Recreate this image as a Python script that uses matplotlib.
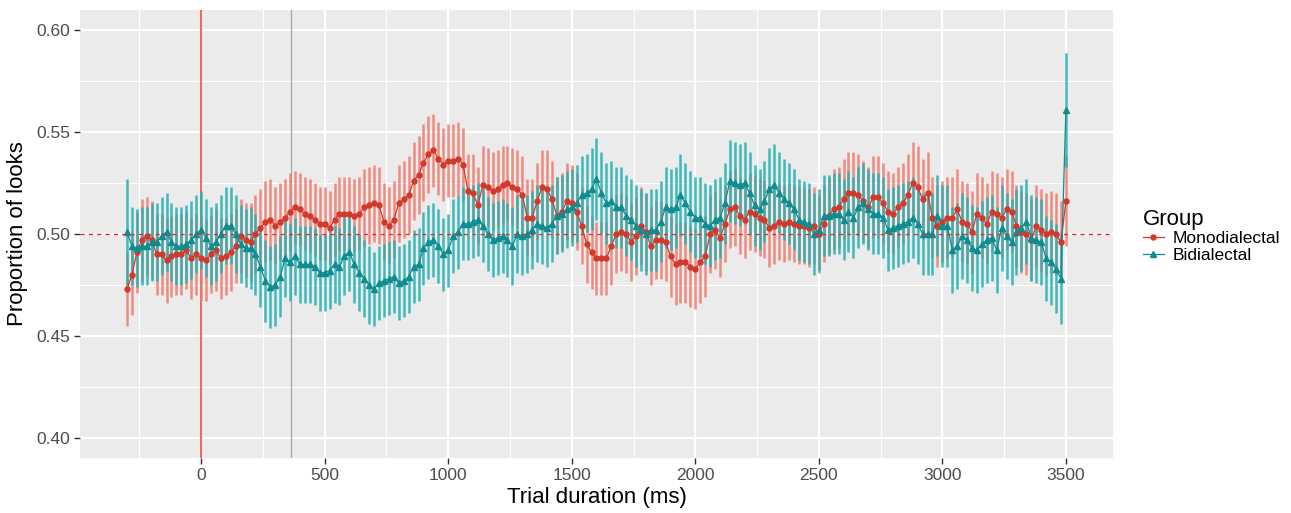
# proportion of looks over trial time, two groups with 95% CI bars
import numpy as np
import matplotlib
matplotlib.use("Agg")
import matplotlib.pyplot as plt
from matplotlib.lines import Line2D

# time bins (ms)
time_ms = np.arange(-300, 3501, 20)

# Monodialectal
mono_mean = [
    0.473, 0.480, 0.491, 0.497, 0.499, 0.497, 0.490, 0.490, 0.487, 0.489,
    0.490, 0.490, 0.492, 0.488, 0.490, 0.488, 0.487, 0.490, 0.492, 0.488,
    0.489, 0.491, 0.494, 0.499, 0.497, 0.496, 0.500, 0.503, 0.506, 0.507,
    0.504, 0.506, 0.508, 0.511, 0.513, 0.512, 0.510, 0.509, 0.507, 0.505,
    0.505, 0.503, 0.507, 0.510, 0.510, 0.510, 0.509, 0.510, 0.513, 0.514,
    0.515, 0.514, 0.506, 0.504, 0.507, 0.515, 0.517, 0.519, 0.526, 0.529,
    0.535, 0.539, 0.541, 0.537, 0.534, 0.536, 0.536, 0.537, 0.534, 0.521,
    0.520, 0.514, 0.524, 0.523, 0.521, 0.522, 0.524, 0.525, 0.523, 0.522,
    0.519, 0.508, 0.508, 0.516, 0.523, 0.522, 0.517, 0.509, 0.511, 0.516,
    0.515, 0.511, 0.504, 0.495, 0.491, 0.488, 0.488, 0.488, 0.494, 0.500,
    0.501, 0.500, 0.496, 0.499, 0.504, 0.501, 0.494, 0.497, 0.497, 0.496,
    0.489, 0.485, 0.486, 0.486, 0.484, 0.483, 0.486, 0.489, 0.500, 0.502,
    0.498, 0.505, 0.512, 0.513, 0.509, 0.507, 0.511, 0.510, 0.508, 0.507,
    0.503, 0.504, 0.506, 0.505, 0.506, 0.505, 0.504, 0.504, 0.503, 0.504,
    0.500, 0.505, 0.509, 0.512, 0.513, 0.517, 0.520, 0.520, 0.519, 0.516,
    0.513, 0.518, 0.518, 0.515, 0.511, 0.510, 0.513, 0.515, 0.519, 0.525,
    0.523, 0.517, 0.520, 0.508, 0.504, 0.506, 0.508, 0.508, 0.512, 0.506,
    0.505, 0.501, 0.510, 0.508, 0.505, 0.511, 0.510, 0.508, 0.512, 0.511,
    0.504, 0.501, 0.500, 0.497, 0.504, 0.502, 0.500, 0.501, 0.500, 0.496,
    0.516,
]
mono_ci = [
    0.018, 0.020, 0.020, 0.020, 0.019, 0.019, 0.020, 0.020, 0.021, 0.020,
    0.020, 0.020, 0.019, 0.020, 0.020, 0.021, 0.020, 0.019, 0.020, 0.020,
    0.019, 0.019, 0.018, 0.018, 0.018, 0.019, 0.019, 0.019, 0.020, 0.020,
    0.019, 0.019, 0.019, 0.019, 0.018, 0.018, 0.018, 0.018, 0.018, 0.018,
    0.018, 0.018, 0.018, 0.018, 0.018, 0.018, 0.018, 0.018, 0.019, 0.019,
    0.019, 0.019, 0.019, 0.019, 0.019, 0.019, 0.019, 0.019, 0.019, 0.019,
    0.019, 0.019, 0.018, 0.018, 0.018, 0.018, 0.018, 0.018, 0.018, 0.018,
    0.019, 0.019, 0.019, 0.019, 0.019, 0.019, 0.019, 0.018, 0.019, 0.019,
    0.019, 0.019, 0.019, 0.019, 0.018, 0.019, 0.019, 0.019, 0.019, 0.019,
    0.019, 0.019, 0.019, 0.019, 0.018, 0.018, 0.018, 0.018, 0.019, 0.019,
    0.019, 0.019, 0.019, 0.019, 0.019, 0.019, 0.019, 0.019, 0.019, 0.019,
    0.020, 0.020, 0.020, 0.020, 0.020, 0.020, 0.020, 0.020, 0.019, 0.019,
    0.019, 0.019, 0.019, 0.019, 0.019, 0.019, 0.019, 0.019, 0.019, 0.019,
    0.019, 0.019, 0.019, 0.019, 0.019, 0.019, 0.019, 0.019, 0.019, 0.019,
    0.019, 0.019, 0.019, 0.020, 0.020, 0.020, 0.020, 0.020, 0.020, 0.020,
    0.020, 0.020, 0.020, 0.020, 0.020, 0.020, 0.020, 0.020, 0.020, 0.020,
    0.020, 0.020, 0.020, 0.020, 0.020, 0.020, 0.020, 0.020, 0.020, 0.020,
    0.020, 0.020, 0.020, 0.020, 0.020, 0.020, 0.020, 0.020, 0.020, 0.020,
    0.020, 0.020, 0.020, 0.020, 0.020, 0.020, 0.020, 0.020, 0.020, 0.020,
    0.022,
]

# Bidialectal
bi_mean = [
    0.501, 0.494, 0.493, 0.494, 0.494, 0.496, 0.496, 0.499, 0.501, 0.496,
    0.494, 0.494, 0.495, 0.497, 0.500, 0.502, 0.498, 0.494, 0.496, 0.500,
    0.504, 0.504, 0.500, 0.495, 0.493, 0.493, 0.490, 0.484, 0.477, 0.474,
    0.475, 0.479, 0.488, 0.486, 0.489, 0.485, 0.485, 0.485, 0.484, 0.481,
    0.481, 0.482, 0.485, 0.484, 0.489, 0.491, 0.485, 0.481, 0.478, 0.475,
    0.473, 0.476, 0.477, 0.478, 0.479, 0.476, 0.477, 0.479, 0.484, 0.485,
    0.493, 0.496, 0.497, 0.494, 0.490, 0.492, 0.499, 0.501, 0.505, 0.505,
    0.506, 0.507, 0.504, 0.500, 0.497, 0.498, 0.499, 0.497, 0.494, 0.500,
    0.499, 0.500, 0.502, 0.505, 0.504, 0.503, 0.505, 0.509, 0.510, 0.512,
    0.513, 0.515, 0.519, 0.520, 0.522, 0.527, 0.520, 0.515, 0.516, 0.513,
    0.513, 0.509, 0.507, 0.504, 0.502, 0.500, 0.502, 0.502, 0.506, 0.513,
    0.512, 0.513, 0.519, 0.515, 0.511, 0.508, 0.508, 0.505, 0.504, 0.507,
    0.508, 0.515, 0.526, 0.525, 0.524, 0.525, 0.520, 0.514, 0.512, 0.516,
    0.522, 0.524, 0.520, 0.517, 0.515, 0.512, 0.507, 0.506, 0.505, 0.500,
    0.502, 0.509, 0.509, 0.510, 0.510, 0.507, 0.511, 0.508, 0.513, 0.515,
    0.512, 0.510, 0.510, 0.508, 0.502, 0.503, 0.504, 0.505, 0.506, 0.508,
    0.505, 0.500, 0.500, 0.500, 0.509, 0.504, 0.504, 0.492, 0.494, 0.499,
    0.497, 0.493, 0.492, 0.495, 0.497, 0.498, 0.492, 0.503, 0.499, 0.496,
    0.501, 0.503, 0.506, 0.498, 0.497, 0.496, 0.488, 0.486, 0.483, 0.478,
    0.561,
]
bi_ci = [
    0.026, 0.019, 0.019, 0.019, 0.019, 0.019, 0.019, 0.019, 0.019, 0.019,
    0.019, 0.019, 0.019, 0.019, 0.019, 0.019, 0.019, 0.019, 0.019, 0.019,
    0.019, 0.019, 0.019, 0.019, 0.019, 0.020, 0.020, 0.020, 0.020, 0.020,
    0.020, 0.020, 0.019, 0.019, 0.019, 0.019, 0.019, 0.019, 0.019, 0.019,
    0.019, 0.019, 0.019, 0.019, 0.019, 0.019, 0.019, 0.019, 0.019, 0.019,
    0.018, 0.018, 0.018, 0.018, 0.018, 0.018, 0.018, 0.018, 0.018, 0.018,
    0.018, 0.018, 0.018, 0.018, 0.018, 0.018, 0.018, 0.018, 0.018, 0.018,
    0.018, 0.018, 0.018, 0.018, 0.018, 0.018, 0.018, 0.018, 0.019, 0.019,
    0.019, 0.019, 0.019, 0.019, 0.019, 0.019, 0.019, 0.019, 0.019, 0.019,
    0.019, 0.019, 0.019, 0.019, 0.020, 0.020, 0.020, 0.020, 0.020, 0.020,
    0.020, 0.020, 0.020, 0.020, 0.020, 0.020, 0.020, 0.020, 0.020, 0.020,
    0.020, 0.020, 0.020, 0.020, 0.020, 0.020, 0.020, 0.020, 0.020, 0.020,
    0.020, 0.020, 0.020, 0.020, 0.020, 0.020, 0.020, 0.020, 0.020, 0.020,
    0.020, 0.020, 0.020, 0.020, 0.020, 0.020, 0.020, 0.020, 0.020, 0.020,
    0.020, 0.020, 0.020, 0.020, 0.020, 0.020, 0.020, 0.020, 0.020, 0.020,
    0.020, 0.020, 0.020, 0.020, 0.020, 0.020, 0.020, 0.020, 0.020, 0.020,
    0.020, 0.020, 0.020, 0.020, 0.020, 0.020, 0.020, 0.021, 0.021, 0.021,
    0.021, 0.021, 0.021, 0.021, 0.021, 0.021, 0.021, 0.021, 0.021, 0.021,
    0.021, 0.021, 0.021, 0.021, 0.021, 0.021, 0.021, 0.021, 0.022, 0.022,
    0.028,
]

groups = ["Monodialectal", "Bidialectal"]
line_cols = ["#D1392B", "#0E8C8F"]
bar_cols = ["#F0796B", "#22B0B3"]
markers = ["o", "^"]
marker_sizes = [3.6, 4.4]

ONSET_MS = 0
MEAN_RT_MS = 365


def main():
    plt.rcParams["font.family"] = ["Liberation Sans", "DejaVu Sans"]

    fig = plt.figure(figsize=(12.91, 5.13), dpi=100)
    ax = fig.add_axes([0.062, 0.107, 0.800, 0.874])
    ax.set_facecolor("#EBEBEB")

    means = [np.array(mono_mean), np.array(bi_mean)]
    cis = [np.array(mono_ci), np.array(bi_ci)]

    # grid (ggplot style)
    for yv in [0.425, 0.475, 0.525, 0.575]:
        ax.axhline(yv, color="white", lw=0.8, zorder=0)
    for xv in np.arange(-250, 3600, 500):
        ax.axvline(xv, color="white", lw=0.8, zorder=0)
    for yv in np.arange(0.40, 0.601, 0.05):
        ax.axhline(yv, color="white", lw=1.6, zorder=0)
    for xv in np.arange(0, 3501, 500):
        ax.axvline(xv, color="white", lw=1.6, zorder=0)

    ax.axvline(ONSET_MS, color="#F03A30", lw=1.1, zorder=1)
    ax.axvline(MEAN_RT_MS, color="#A6A6A6", lw=0.9, zorder=1)

    # error bars first, then lines, then points
    for i in range(2):
        ax.vlines(time_ms, means[i] - cis[i], means[i] + cis[i],
                  color=bar_cols[i], lw=1.8, alpha=0.85, zorder=2)
    for i in range(2):
        ax.plot(time_ms, means[i], color=line_cols[i], lw=0.9, zorder=3)
    for i in range(2):
        ax.plot(time_ms, means[i], ls="none", marker=markers[i],
                ms=marker_sizes[i], color=line_cols[i], zorder=4)

    ax.axhline(0.5, color="#D9342B", lw=1.0, ls=(0, (3, 3)), zorder=5)

    ax.set_xlim(-490, 3690)
    ax.set_ylim(0.39, 0.61)
    ax.set_xticks(np.arange(0, 3501, 500))
    ax.set_yticks([0.40, 0.45, 0.50, 0.55, 0.60])
    ax.set_yticklabels(["0.40", "0.45", "0.50", "0.55", "0.60"])
    ax.tick_params(length=4, width=1.0, color="#333333", labelcolor="#4D4D4D",
                   labelsize=12.5, pad=3)
    for s in ax.spines.values():
        s.set_visible(False)

    ax.set_xlabel("Trial duration (ms)", fontsize=16, labelpad=3)
    ax.set_ylabel("Proportion of looks", fontsize=16, labelpad=6)

    handles = [Line2D([], [], color=line_cols[i], lw=0.9, marker=markers[i],
                      ms=marker_sizes[i]) for i in range(2)]
    leg = fig.legend(handles, groups, title="Group", loc="center left",
                     bbox_to_anchor=(0.873, 0.54), frameon=False,
                     fontsize=12.5, title_fontsize=16, handlelength=1.2,
                     handletextpad=0.5, labelspacing=0.1)
    leg._legend_box.align = "left"

    fig.savefig("out.png", dpi=100)


if __name__ == "__main__":
    main()
